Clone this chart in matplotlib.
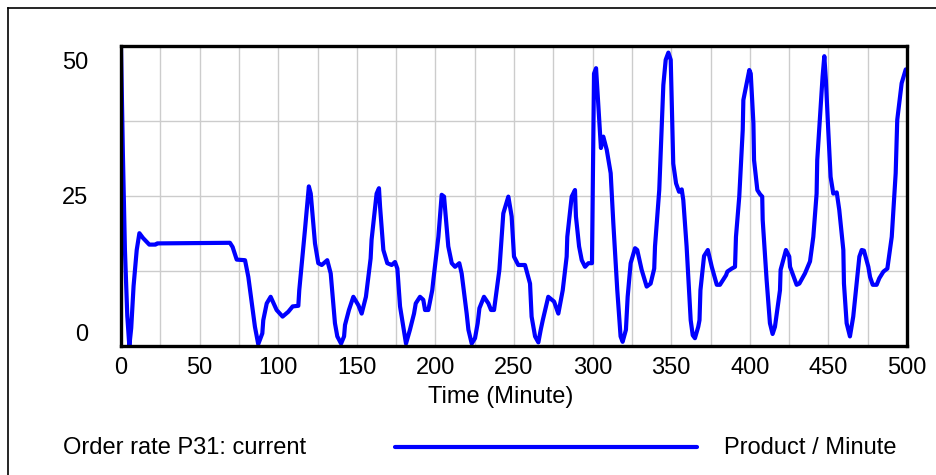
import matplotlib
matplotlib.use("Agg")
import matplotlib.pyplot as plt
from matplotlib.lines import Line2D
from matplotlib.transforms import offset_copy

plt.rcParams['font.family'] = ['Liberation Sans', 'DejaVu Sans']

# Order rate P31 (current run), Product / Minute against Time (Minute)
time = [0, 1.2, 2.5, 4, 5.3, 6.5, 8, 10, 11.7, 14, 18, 22, 23, 69.3, 71, 73.6,
        78.9, 81, 85.2, 87.3, 89.9, 90.5, 92.7, 95.2, 99, 102.8, 106.4, 109.2,
        112.8, 113.4, 117, 119.5, 120.7, 123.4, 125.5, 127.7, 131.2, 133.4,
        136.1, 137.6, 140, 141.9, 142.5, 145, 147.8, 151, 153.1, 155.8, 158.8,
        159.4, 162.6, 164.1, 164.8, 166.9, 169.4, 172.2, 174.3, 175.8, 177.5,
        179.6, 181.3, 183.8, 186.4, 187.5, 190.2, 192.3, 193.4, 195.5, 198,
        198.7, 201.9, 204, 205.5, 208.2, 210.4, 212.5, 215.2, 216.7, 219.9,
        221, 223.1, 225.2, 226.9, 228, 230.9, 233.7, 235.4, 237.3, 240.7,
        243.2, 246.4, 248.5, 250, 252.7, 257, 260.2, 261.2, 263.4, 265.5, 267,
        268.3, 271.8, 275.5, 278.2, 281, 283.5, 283.9, 286.7, 288.8, 289.4,
        291.4, 293.1, 295.2, 297.3, 299.6, 300.3, 300.9, 302.2, 303.6, 305.3,
        306.8, 309, 311.5, 313.2, 315.7, 317.8, 319.1, 321.2, 322.3, 324.2,
        327, 328.4, 331.2, 334.4, 336.9, 339.2, 339.7, 342.4, 345, 346.5,
        348.2, 349.7, 351.3, 353.1, 355, 356.7, 357.7, 359.8, 362.4, 363.7,
        365.1, 367.2, 368, 368.6, 370.9, 373.3, 375.8, 379, 381, 384.9, 385.7,
        388.5, 390.6, 391.2, 393.3, 395.5, 395.9, 399.7, 400.6, 402.3, 402.7,
        404.8, 406.5, 407.9, 408.2, 410.7, 412.8, 414.5, 416, 419.2, 419.6,
        423, 425.1, 425.6, 429.8, 431.5, 435.1, 438.3, 440.4, 442.5, 442.9,
        445.1, 446.3, 447.4, 448.4, 449.9, 451.4, 453.1, 455.3, 456.9, 459.5,
        459.9, 461.6, 463.7, 465.8, 469.7, 471.2, 472.6, 475.4, 476.5, 478.2,
        480.7, 482.4, 485, 487.5, 490.3, 492.8, 493.8, 496.6, 499.2]
order_rate = [50, 32, 16, 5, 0, 3, 10, 16, 18.8, 18, 16.9, 16.9, 17.1, 17.2,
              16.5, 14.4, 14.3, 11.5, 3.2, 0.3, 2.1, 4.3, 7.1, 8.2, 6, 4.9,
              5.7, 6.6, 6.7, 9.3, 19.3, 26.6, 25.4, 17.1, 13.8, 13.5, 14.3,
              12.1, 3.8, 1.6, 0.4, 1.6, 3.5, 6, 8.2, 6.8, 5.4, 8.2, 14.6, 17.7,
              25.4, 26.3, 23.2, 16, 13.8, 13.5, 14, 12.9, 6.6, 3.2, 0.4, 2.7,
              5.4, 7.1, 8.2, 7.7, 6, 6, 9.3, 11, 18.2, 25.2, 24.9, 16.6, 13.8,
              13.2, 13.8, 12.1, 5.4, 2.7, 0.4, 1.3, 3.8, 6.3, 8.2, 7.1, 6, 6,
              12.7, 22.1, 24.9, 21.6, 14.9, 13.5, 13.5, 10.4, 4.9, 1.6, 0.6,
              2.7, 4.3, 8.2, 7.4, 5.4, 9.3, 14.9, 18.2, 24.9, 26, 21.6, 16.6,
              14.3, 13.2, 13.8, 13.8, 30, 45.4, 46.3, 40.4, 33, 34.9, 32.7,
              28.8, 20.4, 9.3, 1.6, 0.7, 2.7, 8.2, 13.8, 16.3, 16, 12.7, 9.9,
              10.4, 12.9, 16.6, 26, 43.5, 47.7, 48.9, 47.7, 30.4, 27.1, 25.7,
              26.1, 24.3, 16.6, 4.3, 1.8, 1.3, 3.2, 4.3, 9.3, 15, 16, 13.2,
              10.2, 10.2, 11.8, 12.4, 12.9, 13.2, 18.2, 24.9, 36, 41, 46, 45.4,
              37.1, 31, 26, 25.3, 24.9, 21, 11, 3.8, 2, 3.2, 9.3, 12.7, 16,
              14.9, 13.2, 10.2, 10.4, 12.1, 14.1, 18.2, 25.4, 31, 39.9, 44.9,
              48.3, 44.3, 36, 28.2, 25.4, 25.6, 22.7, 16, 10.4, 3.8, 1.6, 4.9,
              14.9, 16, 15.9, 13.2, 11.5, 10.2, 10.2, 11.3, 12.4, 12.9, 18.2,
              28.8, 37.7, 43.8, 46.1]

xticks = [0, 50, 100, 150, 200, 250, 300, 350, 400, 450, 500]
yticks = [0, 25, 50]
# nudges (pixels) so the end labels sit inside the frame
ytick_nudge = [11, -2, -17]

BLUE = (0, 0, 1)
FS = 17

fig = plt.figure(figsize=(9.37, 4.75), dpi=100)
ax = fig.add_axes([121 / 937, 129 / 475, 786 / 937, 300 / 475])

ax.plot(time, order_rate, color=BLUE, lw=3, solid_joinstyle='round',
        solid_capstyle='round', clip_on=True, zorder=3)

ax.set_xlim(0, 500)
ax.set_ylim(0, 50)
ax.set_xticks(range(0, 501, 25))
ax.set_xticklabels([str(v) if v in xticks else '' for v in range(0, 501, 25)],
                   fontsize=FS)
ax.set_yticks([0, 12.5, 25, 37.5, 50])
ax.set_yticklabels([])
ax.tick_params(length=0)
ax.tick_params(axis='x', pad=8)
ax.grid(True, color='#cccccc', lw=1)
ax.set_axisbelow(True)
for s in ax.spines.values():
    s.set_linewidth(2.4)
    s.set_color('black')
    s.set_zorder(4)

for v, dy in zip(yticks, ytick_nudge):
    tr = offset_copy(ax.transData, fig=fig, x=0, y=dy, units='dots')
    ax.text(-33 / 786 * 500, v, str(v), transform=tr, ha='right', va='center',
            fontsize=FS, clip_on=False)

fig.text(501 / 937, 1 - 397 / 475, 'Time (Minute)', ha='center', va='center',
         fontsize=FS)

# legend row
fig.text(63 / 937, 1 - 448 / 475, 'Order rate P31: current', ha='left',
         va='center', fontsize=FS)
fig.add_artist(Line2D([395 / 937, 697 / 937], [1 - 447 / 475, 1 - 447 / 475],
                      color=BLUE, lw=3, solid_capstyle='round'))
fig.text(724 / 937, 1 - 448 / 475, 'Product / Minute', ha='left', va='center',
         fontsize=FS)

# outer frame (top and left edges)
fig.add_artist(Line2D([8 / 937, 1], [1 - 8 / 475, 1 - 8 / 475], color='black', lw=1.2))
fig.add_artist(Line2D([8 / 937, 8 / 937], [0, 1 - 8 / 475], color='black', lw=1.2))

fig.savefig('out.png', dpi=100)
